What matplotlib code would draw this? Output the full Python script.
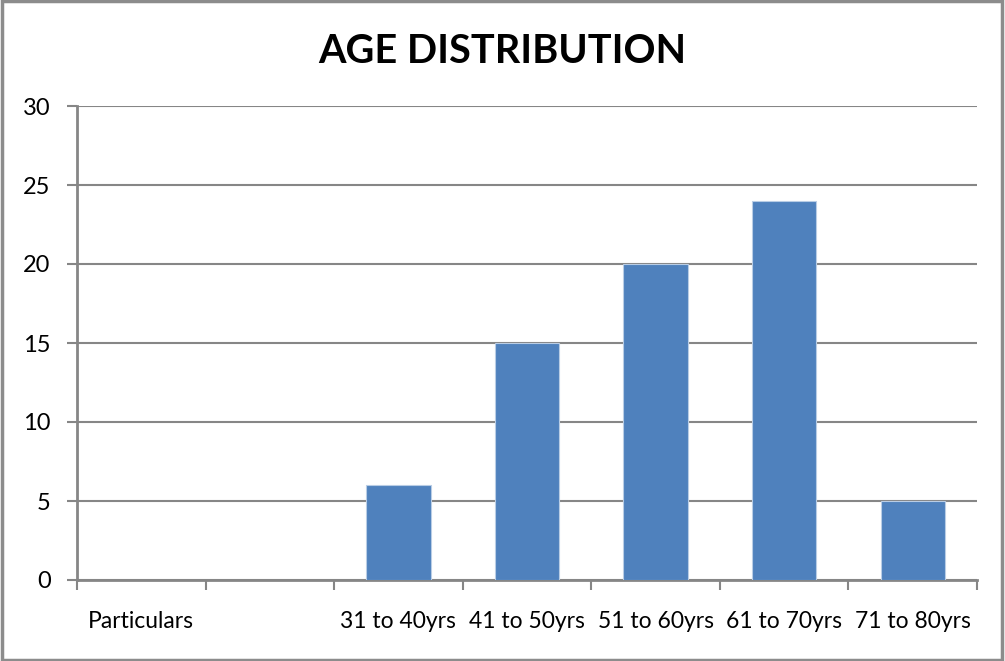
import matplotlib
matplotlib.use("Agg")
import matplotlib.pyplot as plt
from matplotlib.patches import Rectangle
import numpy as np

categories = ["Particulars", "", "31 to 40yrs", "41 to 50yrs", "51 to 60yrs", "61 to 70yrs", "71 to 80yrs"]
counts = [np.nan, np.nan, 6, 15, 20, 24, 5]
y_ticks = [0, 5, 10, 15, 20, 25, 30]
title = "AGE DISTRIBUTION"

bar_color = "#4F81BD"
grid_color = "#868686"

plt.rcParams['font.family'] = ['Lato', 'Liberation Sans', 'DejaVu Sans']

fig = plt.figure(figsize=(10.05, 6.61), dpi=100)
ax = fig.add_axes([77/1005, 1 - 580/661, 900/1005, 474/661])

x = np.arange(len(categories))
ax.bar(x, counts, width=0.5, color=bar_color, edgecolor="#B9CDE5", linewidth=0.8, zorder=3)

ax.set_xlim(-0.5, len(categories) - 0.5)
ax.set_ylim(0, 30)
ax.set_yticks(y_ticks)
ax.yaxis.grid(True, color=grid_color, linewidth=1.5, zorder=0)
ax.set_axisbelow(True)

ax.set_xticks(x)
ax.set_xticklabels(categories)
ax.set_xticks(np.arange(-0.5, len(categories)), minor=True)
ax.tick_params(axis='x', which='major', length=0, pad=22, labelsize=16.5)
ax.tick_params(axis='x', which='minor', length=7, width=1.5, color=grid_color, direction='out')
ax.tick_params(axis='y', length=7, width=1.5, color=grid_color, direction='out', pad=12, labelsize=17)

for side in ['top', 'right']:
    ax.spines[side].set_visible(False)
for side in ['left', 'bottom']:
    ax.spines[side].set_color(grid_color)
    ax.spines[side].set_linewidth(2)

fig.text(0.5, 1 - 63/661, title, ha='center', va='baseline', fontsize=28.5,
         fontweight='bold')

fig.patches.append(Rectangle((0.0015, 0.002), 0.996, 0.996, transform=fig.transFigure,
                             fill=False, edgecolor="#8C8C8C", linewidth=2.5))

fig.savefig("out.png", dpi=100)
